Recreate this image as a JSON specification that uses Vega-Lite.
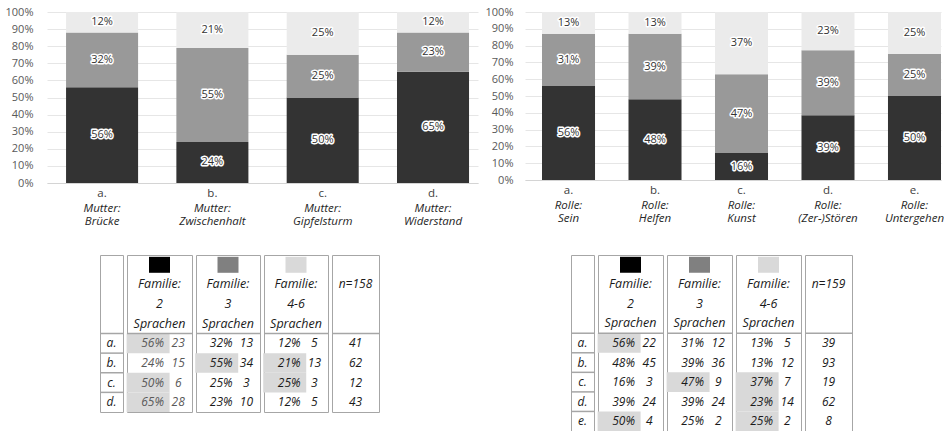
{
"$schema": "https://vega.github.io/schema/vega-lite/v6.json",
"padding": {"left": 5, "top": 6, "right": 0, "bottom": 0},
"background": "white",
"config": {"view": {"stroke": null}, "font": "Open Sans"},
"datasets": {
"bars": [
{"q":"L","cat":"a.|Mutter:|Brücke","g":"2","p":56,"lbl":"56%"},
{"q":"L","cat":"a.|Mutter:|Brücke","g":"3","p":32,"lbl":"32%"},
{"q":"L","cat":"a.|Mutter:|Brücke","g":"4-6","p":12,"lbl":"12%"},
{"q":"L","cat":"b.|Mutter:|Zwischenhalt","g":"2","p":24,"lbl":"24%"},
{"q":"L","cat":"b.|Mutter:|Zwischenhalt","g":"3","p":55,"lbl":"55%"},
{"q":"L","cat":"b.|Mutter:|Zwischenhalt","g":"4-6","p":21,"lbl":"21%"},
{"q":"L","cat":"c.|Mutter:|Gipfelsturm","g":"2","p":50,"lbl":"50%"},
{"q":"L","cat":"c.|Mutter:|Gipfelsturm","g":"3","p":25,"lbl":"25%"},
{"q":"L","cat":"c.|Mutter:|Gipfelsturm","g":"4-6","p":25,"lbl":"25%"},
{"q":"L","cat":"d.|Mutter:|Widerstand","g":"2","p":65,"lbl":"65%"},
{"q":"L","cat":"d.|Mutter:|Widerstand","g":"3","p":23,"lbl":"23%"},
{"q":"L","cat":"d.|Mutter:|Widerstand","g":"4-6","p":12,"lbl":"12%"},
{"q":"R","cat":"a.|Rolle:|Sein","g":"2","p":56,"lbl":"56%"},
{"q":"R","cat":"a.|Rolle:|Sein","g":"3","p":31,"lbl":"31%"},
{"q":"R","cat":"a.|Rolle:|Sein","g":"4-6","p":13,"lbl":"13%"},
{"q":"R","cat":"b.|Rolle:|Helfen","g":"2","p":48,"lbl":"48%"},
{"q":"R","cat":"b.|Rolle:|Helfen","g":"3","p":39,"lbl":"39%"},
{"q":"R","cat":"b.|Rolle:|Helfen","g":"4-6","p":13,"lbl":"13%"},
{"q":"R","cat":"c.|Rolle:|Kunst","g":"2","p":16,"lbl":"16%"},
{"q":"R","cat":"c.|Rolle:|Kunst","g":"3","p":47,"lbl":"47%"},
{"q":"R","cat":"c.|Rolle:|Kunst","g":"4-6","p":37,"lbl":"37%"},
{"q":"R","cat":"d.|Rolle:|(Zer-)Stören","g":"2","p":39,"lbl":"39%"},
{"q":"R","cat":"d.|Rolle:|(Zer-)Stören","g":"3","p":39,"lbl":"39%"},
{"q":"R","cat":"d.|Rolle:|(Zer-)Stören","g":"4-6","p":23,"lbl":"23%"},
{"q":"R","cat":"e.|Rolle:|Untergehen","g":"2","p":50,"lbl":"50%"},
{"q":"R","cat":"e.|Rolle:|Untergehen","g":"3","p":25,"lbl":"25%"},
{"q":"R","cat":"e.|Rolle:|Untergehen","g":"4-6","p":25,"lbl":"25%"}
],
"cells": [
{"t":"L","c":"g1","r":"sq"},{"t":"L","c":"g2","r":"sq"},{"t":"L","c":"g3","r":"sq"},
{"t":"L","c":"g1","r":"l1","v":"Familie:"},{"t":"L","c":"g1","r":"l2","v":"2"},{"t":"L","c":"g1","r":"l3","v":"Sprachen"},
{"t":"L","c":"g2","r":"l1","v":"Familie:"},{"t":"L","c":"g2","r":"l2","v":"3"},{"t":"L","c":"g2","r":"l3","v":"Sprachen"},
{"t":"L","c":"g3","r":"l1","v":"Familie:"},{"t":"L","c":"g3","r":"l2","v":"4-6"},{"t":"L","c":"g3","r":"l3","v":"Sprachen"},
{"t":"L","c":"n","r":"l1","v":"n=158"},
{"t":"L","c":"lab","r":"a","v":"a."},{"t":"L","c":"lab","r":"b","v":"b."},{"t":"L","c":"lab","r":"c","v":"c."},{"t":"L","c":"lab","r":"d","v":"d."},
{"t":"L","c":"g1","r":"a","pct":"56%","cnt":"23","hl":1,"b":1},
{"t":"L","c":"g1","r":"b","pct":"24%","cnt":"15"},
{"t":"L","c":"g1","r":"c","pct":"50%","cnt":"6","hl":1},
{"t":"L","c":"g1","r":"d","pct":"65%","cnt":"28","hl":1,"b":1},
{"t":"L","c":"g2","r":"a","pct":"32%","cnt":"13"},
{"t":"L","c":"g2","r":"b","pct":"55%","cnt":"34","hl":1,"b":1},
{"t":"L","c":"g2","r":"c","pct":"25%","cnt":"3"},
{"t":"L","c":"g2","r":"d","pct":"23%","cnt":"10"},
{"t":"L","c":"g3","r":"a","pct":"12%","cnt":"5"},
{"t":"L","c":"g3","r":"b","pct":"21%","cnt":"13","hl":1},
{"t":"L","c":"g3","r":"c","pct":"25%","cnt":"3","hl":1},
{"t":"L","c":"g3","r":"d","pct":"12%","cnt":"5"},
{"t":"L","c":"n","r":"a","v":"41"},{"t":"L","c":"n","r":"b","v":"62"},{"t":"L","c":"n","r":"c","v":"12"},{"t":"L","c":"n","r":"d","v":"43"},
{"t":"R","c":"g1","r":"sq"},{"t":"R","c":"g2","r":"sq"},{"t":"R","c":"g3","r":"sq"},
{"t":"R","c":"g1","r":"l1","v":"Familie:"},{"t":"R","c":"g1","r":"l2","v":"2"},{"t":"R","c":"g1","r":"l3","v":"Sprachen"},
{"t":"R","c":"g2","r":"l1","v":"Familie:"},{"t":"R","c":"g2","r":"l2","v":"3"},{"t":"R","c":"g2","r":"l3","v":"Sprachen"},
{"t":"R","c":"g3","r":"l1","v":"Familie:"},{"t":"R","c":"g3","r":"l2","v":"4-6"},{"t":"R","c":"g3","r":"l3","v":"Sprachen"},
{"t":"R","c":"n","r":"l1","v":"n=159"},
{"t":"R","c":"lab","r":"a","v":"a."},{"t":"R","c":"lab","r":"b","v":"b."},{"t":"R","c":"lab","r":"c","v":"c."},{"t":"R","c":"lab","r":"d","v":"d."},{"t":"R","c":"lab","r":"e","v":"e."},
{"t":"R","c":"g1","r":"a","pct":"56%","cnt":"22","hl":1},
{"t":"R","c":"g1","r":"b","pct":"48%","cnt":"45"},
{"t":"R","c":"g1","r":"c","pct":"16%","cnt":"3"},
{"t":"R","c":"g1","r":"d","pct":"39%","cnt":"24"},
{"t":"R","c":"g1","r":"e","pct":"50%","cnt":"4","hl":1},
{"t":"R","c":"g2","r":"a","pct":"31%","cnt":"12"},
{"t":"R","c":"g2","r":"b","pct":"39%","cnt":"36"},
{"t":"R","c":"g2","r":"c","pct":"47%","cnt":"9","hl":1},
{"t":"R","c":"g2","r":"d","pct":"39%","cnt":"24"},
{"t":"R","c":"g2","r":"e","pct":"25%","cnt":"2"},
{"t":"R","c":"g3","r":"a","pct":"13%","cnt":"5"},
{"t":"R","c":"g3","r":"b","pct":"13%","cnt":"12"},
{"t":"R","c":"g3","r":"c","pct":"37%","cnt":"7","hl":1},
{"t":"R","c":"g3","r":"d","pct":"23%","cnt":"14","hl":1},
{"t":"R","c":"g3","r":"e","pct":"25%","cnt":"2","hl":1},
{"t":"R","c":"n","r":"a","v":"39"},{"t":"R","c":"n","r":"b","v":"93"},{"t":"R","c":"n","r":"c","v":"19"},{"t":"R","c":"n","r":"d","v":"62"},{"t":"R","c":"n","r":"e","v":"8"}
]
},
"spacing": 25,
"vconcat": [
{"spacing": 7, "hconcat": [
{
"width": 431, "height": 171,
"data": {"name": "bars"},
"transform": [{"filter": "datum.q=='L'"}],
"layer": [
{"mark": {"type": "bar"},
 "encoding": {
  "x": {"field": "cat", "type": "nominal", "scale": {"paddingInner": 0.347, "paddingOuter": 0.127, "align": 0.68},
        "axis": {"orient": "bottom", "title": null, "labelExpr": "split(datum.label,'|')[0]", "labelAngle": 0, "ticks": false, "domainColor": "#d4d4d4", "labelFont": "Open Sans", "labelFontSize": 11.5, "labelColor": "#404040", "labelPadding": 4}},
  "y": {"field": "p", "type": "quantitative", "stack": "normalize", "scale": {"domain": [0, 1]},
        "axis": {"title": null, "values": [0,0.1,0.2,0.3,0.4,0.5,0.6,0.7,0.8,0.9,1], "format": ".0%", "domain": false, "ticks": false, "grid": true, "gridColor": "#e6e6e6", "labelPadding": 14, "labelFont": "Open Sans", "labelFontSize": 11, "labelColor": "#595959"}},
  "color": {"field": "g", "type": "nominal", "scale": {"domain": ["2","3","4-6"], "range": ["#333333","#999999","#ebebeb"]}, "legend": null},
  "order": {"field": "g", "sort": "ascending"}
 }},
{"transform": [
  {"stack": "p", "groupby": ["cat"], "sort": [{"field": "g", "order": "ascending"}], "offset": "normalize", "as": ["y0","y1"]},
  {"fold": ["y0","y1"], "as": ["e","yv"]},
  {"aggregate": [{"op": "mean", "field": "yv", "as": "ym"}], "groupby": ["cat","g","lbl"]}],
 "mark": {"type": "text", "font": "Open Sans", "fontSize": 11, "stroke": "white", "strokeWidth": 3, "strokeJoin": "round", "fill": "white"},
 "encoding": {
  "x": {"field": "cat", "type": "nominal", "axis": {"orient": "bottom", "title": null, "labelExpr": "slice(split(datum.label,'|'),1)", "labelAngle": 0, "ticks": false, "domain": false, "grid": false, "labelFont": "Open Sans", "labelFontSize": 11.5, "labelFontStyle": "italic", "labelColor": "#262626", "labelPadding": 19, "labelLineHeight": 13.5}},
  "y": {"field": "ym", "type": "quantitative",
        "axis": {"title": null, "values": [0,0.1,0.2,0.3,0.4,0.5,0.6,0.7,0.8,0.9,1], "format": ".0%", "domain": false, "ticks": false, "grid": true, "gridColor": "#e6e6e6", "labelPadding": 14, "labelFont": "Open Sans", "labelFontSize": 11, "labelColor": "#595959"}},
  "text": {"field": "lbl"}
 }},
{"transform": [
  {"stack": "p", "groupby": ["cat"], "sort": [{"field": "g", "order": "ascending"}], "offset": "normalize", "as": ["y0","y1"]},
  {"fold": ["y0","y1"], "as": ["e","yv"]},
  {"aggregate": [{"op": "mean", "field": "yv", "as": "ym"}], "groupby": ["cat","g","lbl"]}],
 "mark": {"type": "text", "font": "Open Sans", "fontSize": 11, "fill": "#333333"},
 "encoding": {
  "x": {"field": "cat", "type": "nominal", "axis": null},
  "y": {"field": "ym", "type": "quantitative",
        "axis": {"title": null, "values": [0,0.1,0.2,0.3,0.4,0.5,0.6,0.7,0.8,0.9,1], "format": ".0%", "domain": false, "ticks": false, "grid": true, "gridColor": "#e6e6e6", "labelPadding": 14, "labelFont": "Open Sans", "labelFontSize": 11, "labelColor": "#595959"}},
  "text": {"field": "lbl"}
 }}
],
"resolve": {"axis": {"x": "independent"}}
},
{
"width": 416, "height": 168,
"data": {"name": "bars"},
"transform": [{"filter": "datum.q=='R'"}],
"layer": [
{"mark": {"type": "bar"},
 "encoding": {
  "x": {"field": "cat", "type": "nominal", "scale": {"paddingInner": 0.387, "paddingOuter": 0.0983, "align": 1},
        "axis": {"orient": "bottom", "title": null, "labelExpr": "split(datum.label,'|')[0]", "labelAngle": 0, "ticks": false, "domainColor": "#d4d4d4", "labelFont": "Open Sans", "labelFontSize": 11.5, "labelColor": "#404040", "labelPadding": 4}},
  "y": {"field": "p", "type": "quantitative", "stack": "normalize", "scale": {"domain": [0, 1]},
        "axis": {"title": null, "values": [0,0.1,0.2,0.3,0.4,0.5,0.6,0.7,0.8,0.9,1], "format": ".0%", "domain": false, "ticks": false, "grid": true, "gridColor": "#e6e6e6", "labelPadding": 12, "labelFont": "Open Sans", "labelFontSize": 11, "labelColor": "#595959"}},
  "color": {"field": "g", "type": "nominal", "scale": {"domain": ["2","3","4-6"], "range": ["#333333","#999999","#ebebeb"]}, "legend": null},
  "order": {"field": "g", "sort": "ascending"}
 }},
{"transform": [
  {"stack": "p", "groupby": ["cat"], "sort": [{"field": "g", "order": "ascending"}], "offset": "normalize", "as": ["y0","y1"]},
  {"fold": ["y0","y1"], "as": ["e","yv"]},
  {"aggregate": [{"op": "mean", "field": "yv", "as": "ym"}], "groupby": ["cat","g","lbl"]}],
 "mark": {"type": "text", "font": "Open Sans", "fontSize": 11, "stroke": "white", "strokeWidth": 3, "strokeJoin": "round", "fill": "white"},
 "encoding": {
  "x": {"field": "cat", "type": "nominal", "axis": {"orient": "bottom", "title": null, "labelExpr": "slice(split(datum.label,'|'),1)", "labelAngle": 0, "ticks": false, "domain": false, "grid": false, "labelFont": "Open Sans", "labelFontSize": 11.5, "labelFontStyle": "italic", "labelColor": "#262626", "labelPadding": 19, "labelLineHeight": 13.5}},
  "y": {"field": "ym", "type": "quantitative",
        "axis": {"title": null, "values": [0,0.1,0.2,0.3,0.4,0.5,0.6,0.7,0.8,0.9,1], "format": ".0%", "domain": false, "ticks": false, "grid": true, "gridColor": "#e6e6e6", "labelPadding": 12, "labelFont": "Open Sans", "labelFontSize": 11, "labelColor": "#595959"}},
  "text": {"field": "lbl"}
 }},
{"transform": [
  {"stack": "p", "groupby": ["cat"], "sort": [{"field": "g", "order": "ascending"}], "offset": "normalize", "as": ["y0","y1"]},
  {"fold": ["y0","y1"], "as": ["e","yv"]},
  {"aggregate": [{"op": "mean", "field": "yv", "as": "ym"}], "groupby": ["cat","g","lbl"]}],
 "mark": {"type": "text", "font": "Open Sans", "fontSize": 11, "fill": "#333333"},
 "encoding": {
  "x": {"field": "cat", "type": "nominal", "axis": null},
  "y": {"field": "ym", "type": "quantitative",
        "axis": {"title": null, "values": [0,0.1,0.2,0.3,0.4,0.5,0.6,0.7,0.8,0.9,1], "format": ".0%", "domain": false, "ticks": false, "grid": true, "gridColor": "#e6e6e6", "labelPadding": 12, "labelFont": "Open Sans", "labelFontSize": 11, "labelColor": "#595959"}},
  "text": {"field": "lbl"}
 }}
],
"resolve": {"axis": {"x": "independent"}}
}
]},
{"spacing": 0, "hconcat": [
{"width": 51, "height": 1, "data": {"values": [{}]}, "mark": {"type": "point", "opacity": 0}, "view": {"stroke": null}},
{"spacing": 0, "hconcat": [
{"width": 23, "height": 157, "view": {"stroke": "#a6a6a6", "strokeWidth": 1},
 "data": {"name": "cells"}, "transform": [{"filter": "datum.t=='L' && datum.c=='lab'"}],
 "encoding": {"y": {"field": "r", "type": "nominal", "scale": {"type": "band", "domain": ["sq","l1","l2","l3","a","b","c","d"], "paddingInner": 0, "paddingOuter": 0}, "axis": null}},
 "layer": [
  {"mark": {"type": "rule", "color": "#a6a6a6", "strokeWidth": 1.5}, "encoding": {"y": {"field": "r", "type": "nominal", "bandPosition": 0}}},
  {"transform": [{"filter": "isValid(datum.v)"}], "mark": {"type": "text", "font": "Open Sans", "fontSize": 12, "fontStyle": "italic", "fontWeight": "normal", "color": "#1a1a1a"}, "encoding": {"text": {"field": "v"}}}
 ]},
{"width": 65, "height": 157, "view": {"stroke": "#a6a6a6", "strokeWidth": 1},
 "data": {"name": "cells"}, "transform": [{"filter": "datum.t=='L' && datum.c=='g1'"}],
 "encoding": {"y": {"field": "r", "type": "nominal", "scale": {"type": "band", "domain": ["sq","l1","l2","l3","a","b","c","d"], "paddingInner": 0, "paddingOuter": 0}, "axis": null}},
 "layer": [
  {"transform": [{"filter": "datum.hl==1"}], "mark": {"type": "rect", "width": 43, "xOffset": -4.5, "color": "#d9d9d9"}, "encoding": {"x": {"datum": "pct", "type": "nominal", "scale": {"type": "point", "domain": ["pct","cnt"], "padding": 0.77, "align": 0.65}, "axis": null}}},
  {"transform": [{"filter": "datum.r=='a'"}], "mark": {"type": "rule", "color": "#a6a6a6", "strokeWidth": 1.5}, "encoding": {"y": {"field": "r", "type": "nominal", "bandPosition": 0}}},
  {"transform": [{"filter": "datum.r=='sq'"}], "mark": {"type": "point", "shape": "M-1,-0.76H1V0.76H-1Z", "size": 441, "filled": true, "opacity": 1, "color": "#000000"}},
  {"transform": [{"filter": "isValid(datum.v)"}], "mark": {"type": "text", "font": "Open Sans", "fontSize": 12.5, "fontStyle": "italic", "fontWeight": "normal", "color": "#1a1a1a"}, "encoding": {"text": {"field": "v"}}},
  {"transform": [{"filter": "isValid(datum.pct)"}], "mark": {"type": "text", "font": "Open Sans", "fontSize": 12, "fontStyle": "italic"},
   "encoding": {"x": {"datum": "pct", "type": "nominal", "scale": {"type": "point", "domain": ["pct","cnt"], "padding": 0.77, "align": 0.65}, "axis": null}, "text": {"field": "pct"},
    "fontWeight": {"condition": {"test": "datum.b==1", "value": "bold"}, "value": "normal"},
    "color": {"condition": {"test": "datum.t=='L' && datum.c=='g1'", "value": "#595959"}, "value": "#1a1a1a"}}},
  {"transform": [{"filter": "isValid(datum.cnt)"}], "mark": {"type": "text", "font": "Open Sans", "fontSize": 12, "fontStyle": "italic"},
   "encoding": {"x": {"datum": "cnt", "type": "nominal", "scale": {"type": "point", "domain": ["pct","cnt"], "padding": 0.77, "align": 0.65}, "axis": null}, "text": {"field": "cnt"},
    "color": {"condition": {"test": "datum.t=='L' && datum.c=='g1'", "value": "#595959"}, "value": "#1a1a1a"}}}
 ]},
{"width": 64, "height": 157, "view": {"stroke": "#a6a6a6", "strokeWidth": 1},
 "data": {"name": "cells"}, "transform": [{"filter": "datum.t=='L' && datum.c=='g2'"}],
 "encoding": {"y": {"field": "r", "type": "nominal", "scale": {"type": "band", "domain": ["sq","l1","l2","l3","a","b","c","d"], "paddingInner": 0, "paddingOuter": 0}, "axis": null}},
 "layer": [
  {"transform": [{"filter": "datum.hl==1"}], "mark": {"type": "rect", "width": 43, "xOffset": -4.5, "color": "#d9d9d9"}, "encoding": {"x": {"datum": "pct", "type": "nominal", "scale": {"type": "point", "domain": ["pct","cnt"], "padding": 0.77, "align": 0.65}, "axis": null}}},
  {"transform": [{"filter": "datum.r=='a'"}], "mark": {"type": "rule", "color": "#a6a6a6", "strokeWidth": 1.5}, "encoding": {"y": {"field": "r", "type": "nominal", "bandPosition": 0}}},
  {"transform": [{"filter": "datum.r=='sq'"}], "mark": {"type": "point", "shape": "M-1,-0.76H1V0.76H-1Z", "size": 441, "filled": true, "opacity": 1, "color": "#808080"}},
  {"transform": [{"filter": "isValid(datum.v)"}], "mark": {"type": "text", "font": "Open Sans", "fontSize": 12.5, "fontStyle": "italic", "fontWeight": "normal", "color": "#1a1a1a"}, "encoding": {"text": {"field": "v"}}},
  {"transform": [{"filter": "isValid(datum.pct)"}], "mark": {"type": "text", "font": "Open Sans", "fontSize": 12, "fontStyle": "italic", "color": "#1a1a1a"},
   "encoding": {"x": {"datum": "pct", "type": "nominal", "scale": {"type": "point", "domain": ["pct","cnt"], "padding": 0.77, "align": 0.65}, "axis": null}, "text": {"field": "pct"},
    "fontWeight": {"condition": {"test": "datum.b==1", "value": "bold"}, "value": "normal"}}},
  {"transform": [{"filter": "isValid(datum.cnt)"}], "mark": {"type": "text", "font": "Open Sans", "fontSize": 12, "fontStyle": "italic", "color": "#1a1a1a"},
   "encoding": {"x": {"datum": "cnt", "type": "nominal", "scale": {"type": "point", "domain": ["pct","cnt"], "padding": 0.77, "align": 0.65}, "axis": null}, "text": {"field": "cnt"}}}
 ]},
{"width": 64, "height": 157, "view": {"stroke": "#a6a6a6", "strokeWidth": 1},
 "data": {"name": "cells"}, "transform": [{"filter": "datum.t=='L' && datum.c=='g3'"}],
 "encoding": {"y": {"field": "r", "type": "nominal", "scale": {"type": "band", "domain": ["sq","l1","l2","l3","a","b","c","d"], "paddingInner": 0, "paddingOuter": 0}, "axis": null}},
 "layer": [
  {"transform": [{"filter": "datum.hl==1"}], "mark": {"type": "rect", "width": 43, "xOffset": -4.5, "color": "#d9d9d9"}, "encoding": {"x": {"datum": "pct", "type": "nominal", "scale": {"type": "point", "domain": ["pct","cnt"], "padding": 0.77, "align": 0.65}, "axis": null}}},
  {"transform": [{"filter": "datum.r=='a'"}], "mark": {"type": "rule", "color": "#a6a6a6", "strokeWidth": 1.5}, "encoding": {"y": {"field": "r", "type": "nominal", "bandPosition": 0}}},
  {"transform": [{"filter": "datum.r=='sq'"}], "mark": {"type": "point", "shape": "M-1,-0.76H1V0.76H-1Z", "size": 441, "filled": true, "opacity": 1, "color": "#d9d9d9"}},
  {"transform": [{"filter": "isValid(datum.v)"}], "mark": {"type": "text", "font": "Open Sans", "fontSize": 12.5, "fontStyle": "italic", "fontWeight": "normal", "color": "#1a1a1a"}, "encoding": {"text": {"field": "v"}}},
  {"transform": [{"filter": "isValid(datum.pct)"}], "mark": {"type": "text", "font": "Open Sans", "fontSize": 12, "fontStyle": "italic", "color": "#1a1a1a"},
   "encoding": {"x": {"datum": "pct", "type": "nominal", "scale": {"type": "point", "domain": ["pct","cnt"], "padding": 0.77, "align": 0.65}, "axis": null}, "text": {"field": "pct"},
    "fontWeight": {"condition": {"test": "datum.b==1", "value": "bold"}, "value": "normal"}}},
  {"transform": [{"filter": "isValid(datum.cnt)"}], "mark": {"type": "text", "font": "Open Sans", "fontSize": 12, "fontStyle": "italic", "color": "#1a1a1a"},
   "encoding": {"x": {"datum": "cnt", "type": "nominal", "scale": {"type": "point", "domain": ["pct","cnt"], "padding": 0.77, "align": 0.65}, "axis": null}, "text": {"field": "cnt"}}}
 ]},
{"width": 47, "height": 157, "view": {"stroke": "#a6a6a6", "strokeWidth": 1},
 "data": {"name": "cells"}, "transform": [{"filter": "datum.t=='L' && datum.c=='n'"}],
 "encoding": {"y": {"field": "r", "type": "nominal", "scale": {"type": "band", "domain": ["sq","l1","l2","l3","a","b","c","d"], "paddingInner": 0, "paddingOuter": 0}, "axis": null}},
 "layer": [
  {"transform": [{"filter": "datum.r=='a'"}], "mark": {"type": "rule", "color": "#a6a6a6", "strokeWidth": 1.5}, "encoding": {"y": {"field": "r", "type": "nominal", "bandPosition": 0}}},
  {"transform": [{"filter": "isValid(datum.v)"}], "mark": {"type": "text", "font": "Open Sans", "fontSize": 12, "fontStyle": "italic", "color": "#1a1a1a"},
   "encoding": {"text": {"field": "v"}, "fontWeight": {"condition": {"test": "datum.r=='l1'", "value": "bold"}, "value": "normal"}}}
 ]}
]},
{"width": 188, "height": 1, "data": {"values": [{}]}, "mark": {"type": "point", "opacity": 0}, "view": {"stroke": null}},
{"spacing": 0, "hconcat": [
{"width": 23, "height": 176, "view": {"stroke": "#a6a6a6", "strokeWidth": 1},
 "data": {"name": "cells"}, "transform": [{"filter": "datum.t=='R' && datum.c=='lab'"}],
 "encoding": {"y": {"field": "r", "type": "nominal", "scale": {"type": "band", "domain": ["sq","l1","l2","l3","a","b","c","d","e"], "paddingInner": 0, "paddingOuter": 0}, "axis": null}},
 "layer": [
  {"mark": {"type": "rule", "color": "#a6a6a6", "strokeWidth": 1.5}, "encoding": {"y": {"field": "r", "type": "nominal", "bandPosition": 0}}},
  {"transform": [{"filter": "isValid(datum.v)"}], "mark": {"type": "text", "font": "Open Sans", "fontSize": 12, "fontStyle": "italic", "fontWeight": "normal", "color": "#1a1a1a"}, "encoding": {"text": {"field": "v"}}}
 ]},
{"width": 65, "height": 176, "view": {"stroke": "#a6a6a6", "strokeWidth": 1},
 "data": {"name": "cells"}, "transform": [{"filter": "datum.t=='R' && datum.c=='g1'"}],
 "encoding": {"y": {"field": "r", "type": "nominal", "scale": {"type": "band", "domain": ["sq","l1","l2","l3","a","b","c","d","e"], "paddingInner": 0, "paddingOuter": 0}, "axis": null}},
 "layer": [
  {"transform": [{"filter": "datum.hl==1"}], "mark": {"type": "rect", "width": 43, "xOffset": -4.5, "color": "#d9d9d9"}, "encoding": {"x": {"datum": "pct", "type": "nominal", "scale": {"type": "point", "domain": ["pct","cnt"], "padding": 0.77, "align": 0.65}, "axis": null}}},
  {"transform": [{"filter": "datum.r=='a'"}], "mark": {"type": "rule", "color": "#a6a6a6", "strokeWidth": 1.5}, "encoding": {"y": {"field": "r", "type": "nominal", "bandPosition": 0}}},
  {"transform": [{"filter": "datum.r=='sq'"}], "mark": {"type": "point", "shape": "M-1,-0.76H1V0.76H-1Z", "size": 441, "filled": true, "opacity": 1, "color": "#000000"}},
  {"transform": [{"filter": "isValid(datum.v)"}], "mark": {"type": "text", "font": "Open Sans", "fontSize": 12.5, "fontStyle": "italic", "fontWeight": "normal", "color": "#1a1a1a"}, "encoding": {"text": {"field": "v"}}},
  {"transform": [{"filter": "isValid(datum.pct)"}], "mark": {"type": "text", "font": "Open Sans", "fontSize": 12, "fontStyle": "italic", "color": "#1a1a1a"},
   "encoding": {"x": {"datum": "pct", "type": "nominal", "scale": {"type": "point", "domain": ["pct","cnt"], "padding": 0.77, "align": 0.65}, "axis": null}, "text": {"field": "pct"},
    "fontWeight": {"condition": {"test": "datum.b==1", "value": "bold"}, "value": "normal"}}},
  {"transform": [{"filter": "isValid(datum.cnt)"}], "mark": {"type": "text", "font": "Open Sans", "fontSize": 12, "fontStyle": "italic", "color": "#1a1a1a"},
   "encoding": {"x": {"datum": "cnt", "type": "nominal", "scale": {"type": "point", "domain": ["pct","cnt"], "padding": 0.77, "align": 0.65}, "axis": null}, "text": {"field": "cnt"}}}
 ]},
{"width": 65, "height": 176, "view": {"stroke": "#a6a6a6", "strokeWidth": 1},
 "data": {"name": "cells"}, "transform": [{"filter": "datum.t=='R' && datum.c=='g2'"}],
 "encoding": {"y": {"field": "r", "type": "nominal", "scale": {"type": "band", "domain": ["sq","l1","l2","l3","a","b","c","d","e"], "paddingInner": 0, "paddingOuter": 0}, "axis": null}},
 "layer": [
  {"transform": [{"filter": "datum.hl==1"}], "mark": {"type": "rect", "width": 43, "xOffset": -4.5, "color": "#d9d9d9"}, "encoding": {"x": {"datum": "pct", "type": "nominal", "scale": {"type": "point", "domain": ["pct","cnt"], "padding": 0.77, "align": 0.65}, "axis": null}}},
  {"transform": [{"filter": "datum.r=='a'"}], "mark": {"type": "rule", "color": "#a6a6a6", "strokeWidth": 1.5}, "encoding": {"y": {"field": "r", "type": "nominal", "bandPosition": 0}}},
  {"transform": [{"filter": "datum.r=='sq'"}], "mark": {"type": "point", "shape": "M-1,-0.76H1V0.76H-1Z", "size": 441, "filled": true, "opacity": 1, "color": "#808080"}},
  {"transform": [{"filter": "isValid(datum.v)"}], "mark": {"type": "text", "font": "Open Sans", "fontSize": 12.5, "fontStyle": "italic", "fontWeight": "normal", "color": "#1a1a1a"}, "encoding": {"text": {"field": "v"}}},
  {"transform": [{"filter": "isValid(datum.pct)"}], "mark": {"type": "text", "font": "Open Sans", "fontSize": 12, "fontStyle": "italic", "color": "#1a1a1a"},
   "encoding": {"x": {"datum": "pct", "type": "nominal", "scale": {"type": "point", "domain": ["pct","cnt"], "padding": 0.77, "align": 0.65}, "axis": null}, "text": {"field": "pct"},
    "fontWeight": {"condition": {"test": "datum.b==1", "value": "bold"}, "value": "normal"}}},
  {"transform": [{"filter": "isValid(datum.cnt)"}], "mark": {"type": "text", "font": "Open Sans", "fontSize": 12, "fontStyle": "italic", "color": "#1a1a1a"},
   "encoding": {"x": {"datum": "cnt", "type": "nominal", "scale": {"type": "point", "domain": ["pct","cnt"], "padding": 0.77, "align": 0.65}, "axis": null}, "text": {"field": "cnt"}}}
 ]},
{"width": 65, "height": 176, "view": {"stroke": "#a6a6a6", "strokeWidth": 1},
 "data": {"name": "cells"}, "transform": [{"filter": "datum.t=='R' && datum.c=='g3'"}],
 "encoding": {"y": {"field": "r", "type": "nominal", "scale": {"type": "band", "domain": ["sq","l1","l2","l3","a","b","c","d","e"], "paddingInner": 0, "paddingOuter": 0}, "axis": null}},
 "layer": [
  {"transform": [{"filter": "datum.hl==1"}], "mark": {"type": "rect", "width": 43, "xOffset": -4.5, "color": "#d9d9d9"}, "encoding": {"x": {"datum": "pct", "type": "nominal", "scale": {"type": "point", "domain": ["pct","cnt"], "padding": 0.77, "align": 0.65}, "axis": null}}},
  {"transform": [{"filter": "datum.r=='a'"}], "mark": {"type": "rule", "color": "#a6a6a6", "strokeWidth": 1.5}, "encoding": {"y": {"field": "r", "type": "nominal", "bandPosition": 0}}},
  {"transform": [{"filter": "datum.r=='sq'"}], "mark": {"type": "point", "shape": "M-1,-0.76H1V0.76H-1Z", "size": 441, "filled": true, "opacity": 1, "color": "#d9d9d9"}},
  {"transform": [{"filter": "isValid(datum.v)"}], "mark": {"type": "text", "font": "Open Sans", "fontSize": 12.5, "fontStyle": "italic", "fontWeight": "normal", "color": "#1a1a1a"}, "encoding": {"text": {"field": "v"}}},
  {"transform": [{"filter": "isValid(datum.pct)"}], "mark": {"type": "text", "font": "Open Sans", "fontSize": 12, "fontStyle": "italic", "color": "#1a1a1a"},
   "encoding": {"x": {"datum": "pct", "type": "nominal", "scale": {"type": "point", "domain": ["pct","cnt"], "padding": 0.77, "align": 0.65}, "axis": null}, "text": {"field": "pct"},
    "fontWeight": {"condition": {"test": "datum.b==1", "value": "bold"}, "value": "normal"}}},
  {"transform": [{"filter": "isValid(datum.cnt)"}], "mark": {"type": "text", "font": "Open Sans", "fontSize": 12, "fontStyle": "italic", "color": "#1a1a1a"},
   "encoding": {"x": {"datum": "cnt", "type": "nominal", "scale": {"type": "point", "domain": ["pct","cnt"], "padding": 0.77, "align": 0.65}, "axis": null}, "text": {"field": "cnt"}}}
 ]},
{"width": 47, "height": 176, "view": {"stroke": "#a6a6a6", "strokeWidth": 1},
 "data": {"name": "cells"}, "transform": [{"filter": "datum.t=='R' && datum.c=='n'"}],
 "encoding": {"y": {"field": "r", "type": "nominal", "scale": {"type": "band", "domain": ["sq","l1","l2","l3","a","b","c","d","e"], "paddingInner": 0, "paddingOuter": 0}, "axis": null}},
 "layer": [
  {"transform": [{"filter": "datum.r=='a'"}], "mark": {"type": "rule", "color": "#a6a6a6", "strokeWidth": 1.5}, "encoding": {"y": {"field": "r", "type": "nominal", "bandPosition": 0}}},
  {"transform": [{"filter": "isValid(datum.v)"}], "mark": {"type": "text", "font": "Open Sans", "fontSize": 12, "fontStyle": "italic", "color": "#1a1a1a"},
   "encoding": {"text": {"field": "v"}, "fontWeight": {"condition": {"test": "datum.r=='l1'", "value": "bold"}, "value": "normal"}}}
 ]}
]}
]}
]
}
